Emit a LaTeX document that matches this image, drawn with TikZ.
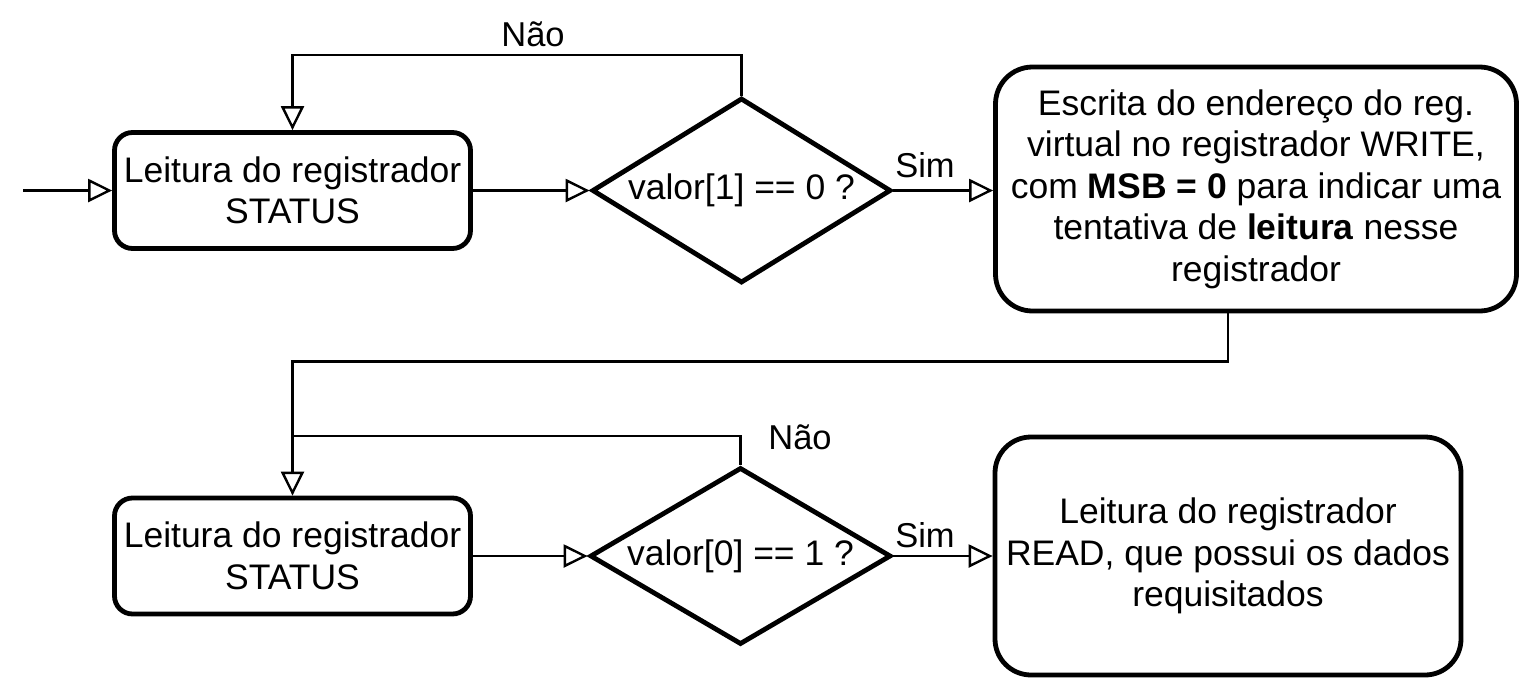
\documentclass[tikz,border=0pt]{standalone}
\usepackage{fontspec}
\setmainfont{Liberation Sans}
\usetikzlibrary{shapes.geometric,arrows.meta,calc}
\begin{document}
\begin{tikzpicture}[x=1pt,y=-1pt,
  box/.style={draw, line width=4.8pt, align=center, inner sep=0pt, font=\fontsize{35.5}{41.5}\selectfont},
  dec/.style={draw, diamond, aspect=1.6, line width=4.8pt, inner sep=0pt, font=\fontsize{35.5}{41.5}\selectfont},
  conn/.style={line width=2.4pt, -{Triangle[open, length=24pt, width=23pt, line width=2.4pt]}},
  plainline/.style={line width=2.4pt},
  lbl/.style={font=\fontsize{34.5}{40}\selectfont, anchor=base, inner sep=0pt}]
\useasboundingbox (0,0) rectangle (1527,681);

\node[box, rounded corners=18pt, minimum width=356pt, minimum height=116pt] (b1) at (292.5,190.5) {Leitura do registrador\\STATUS};
\node[dec, minimum width=299pt, minimum height=185pt] (d1) at (741.5,190.5) {valor[1] == 0 ?};
\node[box, rounded corners=37pt, minimum width=521pt, minimum height=244pt] (b2) at (1256,189) {Escrita do endereço do reg.\\virtual no registrador WRITE,\\com \textbf{MSB = 0} para indicar uma\\tentativa de \textbf{leitura} nesse\\registrador};
\node[box, rounded corners=18pt, minimum width=356pt, minimum height=116pt] (b3) at (292.5,556) {Leitura do registrador\\STATUS};
\node[dec, minimum width=301pt, minimum height=177pt] (d2) at (740.5,556) {valor[0] == 1 ?};
\node[box, rounded corners=36pt, minimum width=466pt, minimum height=238pt] (b4) at (1228,556) {Leitura do registrador\\READ, que possui os dados\\requisitados};

\coordinate (start) at (23,190.5);
\coordinate (top1) at (741.5,55);
\coordinate (join) at (292.5,436);

\node[lbl] (nao1) at (533,46) {Não};
\node[lbl] (sim1) at (925,177) {Sim};
\node[lbl] (nao2) at (800,449) {Não};
\node[lbl] (sim2) at (925,547) {Sim};

\draw[conn] (start) -- (b1.west);
\draw[conn] (b1.east) -- (d1.west);
\draw[conn] (d1.north) -- (top1) -| (b1.north);
\draw[conn] (d1.east) -- (d1.east -| b2.west);
\draw[conn] (b2.south -| b4.center) -- ++(0,48) -| (b3.north);
\draw[plainline] (d2.north) |- (join);
\draw[conn] (b3.east) -- (d2.west);
\draw[conn] (d2.east) -- (b4.west);
\end{tikzpicture}
\end{document}
